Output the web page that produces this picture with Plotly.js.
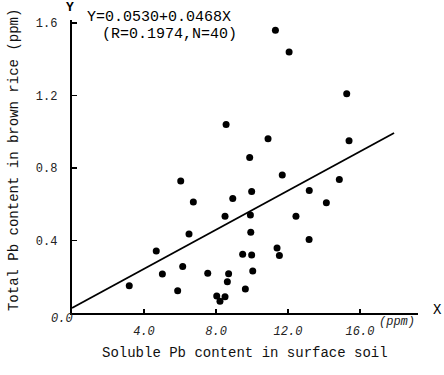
<!DOCTYPE html>
<html>
<head>
<meta charset="utf-8">
<script src="https://cdn.plot.ly/plotly-3.0.1.min.js"></script>
<style>html,body{margin:0;padding:0;background:#fff;}#chart{width:444px;height:375px;}</style>
</head>
<body>
<div id="chart"></div>
<script>
// Soluble Pb in surface soil (ppm)
const soilPb = [3.18, 4.68, 5.02, 5.87, 6.04, 6.15, 6.50, 6.74, 7.54, 8.04, 8.22,
  8.56, 10.89, 15.39, 9.87, 11.68, 14.85, 9.98, 13.18, 8.93, 8.50, 9.91, 12.44, 14.13,
  9.93, 13.17, 11.39, 11.52, 9.48, 9.98, 8.70, 8.63, 10.04, 9.63, 8.50,
  11.30, 12.06, 15.26];
// Total Pb in brown rice (ppm)
const ricePb = [0.151, 0.342, 0.215, 0.123, 0.728, 0.256, 0.436, 0.613, 0.219, 0.094, 0.065,
  1.040, 0.961, 0.950, 0.858, 0.762, 0.737, 0.670, 0.676, 0.632, 0.534, 0.541, 0.534, 0.608,
  0.446, 0.405, 0.359, 0.317, 0.324, 0.320, 0.217, 0.173, 0.232, 0.133, 0.090,
  1.56, 1.44, 1.21];
// Regression line as drawn
const lineX = [0, 17.89];
const lineY = [0.028, 0.993];

const xTickVals = [4, 8, 12, 16];
const xTickText = ['4.0', '8.0', '12.0', '16.0'];
const yTickVals = [0.4, 0.8, 1.2, 1.6];
const yTickText = ['0.4', '0.8', '1.2', '1.6'];

const mono = 'Liberation Mono, DejaVu Sans Mono, monospace';

const traces = [
  {x: soilPb, y: ricePb, mode: 'markers', type: 'scatter',
   marker: {color: '#000', size: 7}, cliponaxis: false, hoverinfo: 'none'},
  {x: lineX, y: lineY, mode: 'lines', type: 'scatter',
   line: {color: '#000', width: 1.8}, hoverinfo: 'none'}
];

const layout = {
  width: 444, height: 375,
  margin: {l: 72, r: 26, t: 20, b: 62},
  paper_bgcolor: '#fff', plot_bgcolor: '#fff',
  showlegend: false,
  xaxis: {
    range: [0, 19.22], showgrid: false, zeroline: false,
    showline: true, linecolor: '#000', linewidth: 2,
    ticks: 'inside', ticklen: 4, tickwidth: 1.5, tickcolor: '#000',
    tickvals: xTickVals, ticktext: xTickText,
    tickfont: {family: mono, size: 12, color: '#222', style: 'italic'},
    ticklabelstandoff: 6
  },
  yaxis: {
    range: [0, 1.617], showgrid: false, zeroline: false,
    showline: true, linecolor: '#000', linewidth: 2.2,
    ticks: 'inside', ticklen: 5, tickwidth: 1.5, tickcolor: '#000',
    tickvals: yTickVals, ticktext: yTickText,
    tickfont: {family: mono, size: 12, color: '#222'},
    ticklabelstandoff: 10
  },
  annotations: [
    {text: 'Y', xref: 'paper', yref: 'paper', x: -0.0058, y: 1.041, showarrow: false,
     xanchor: 'center', yanchor: 'middle', font: {family: mono, size: 13, color: '#000', weight: 'bold'}},
    {text: 'X', xref: 'paper', yref: 'paper', x: 1.055, y: 0.0102, showarrow: false,
     xanchor: 'center', yanchor: 'middle', font: {family: mono, size: 14, color: '#000'}},
    {text: 'Y=0.0530+0.0468X', xref: 'paper', yref: 'paper', x: 0.0376, y: 1.010, showarrow: false,
     xanchor: 'left', yanchor: 'middle', font: {family: mono, size: 15, color: '#000'}},
    {text: '(R=0.1974,N=40)', xref: 'paper', yref: 'paper', x: 0.081, y: 0.949, showarrow: false,
     xanchor: 'left', yanchor: 'middle', font: {family: mono, size: 15, color: '#000'}},
    {text: '(ppm)', xref: 'paper', yref: 'paper', x: 0.8815, y: -0.0307, showarrow: false,
     xanchor: 'left', yanchor: 'middle', font: {family: mono, size: 12, color: '#222', style: 'italic'}},
    {text: '0.0', xref: 'paper', yref: 'paper', x: -0.0289, y: -0.0205, showarrow: false,
     xanchor: 'center', yanchor: 'middle', font: {family: mono, size: 12, color: '#222', style: 'italic'}},
    {text: 'Soluble Pb content in surface soil', xref: 'paper', yref: 'paper', x: 0.5, y: -0.1365,
     showarrow: false, xanchor: 'center', yanchor: 'middle', font: {family: mono, size: 14, color: '#111'}},
    {text: 'Total Pb content in brown rice (ppm)', xref: 'paper', yref: 'paper', x: -0.1676, y: 0.522,
     showarrow: false, textangle: -90, xanchor: 'center', yanchor: 'middle', font: {family: mono, size: 14, color: '#111'}}
  ]
};

Plotly.newPlot('chart', traces, layout, {staticPlot: true, displayModeBar: false});
</script>
</body>
</html>
